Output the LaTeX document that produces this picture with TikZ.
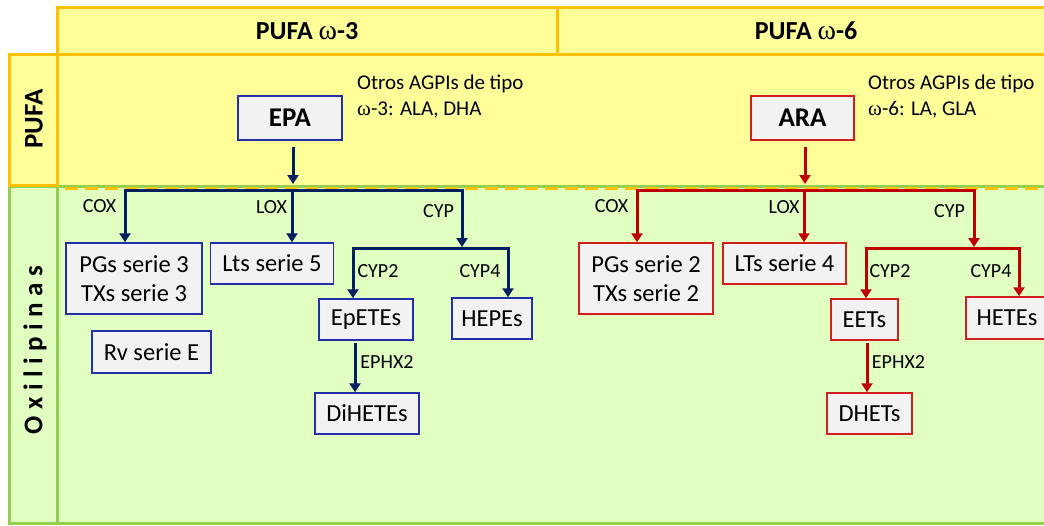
\documentclass[tikz,border=0pt]{standalone}
\usepackage{fontspec}
\setmainfont{Carlito}
\newfontfamily\omegafont{Liberation Serif}
\usetikzlibrary{arrows.meta}
\definecolor{hdryellow}{RGB}{255,255,153}
\definecolor{hdrorange}{RGB}{255,192,0}
\definecolor{lgreen}{RGB}{224,255,192}
\definecolor{dgreen}{RGB}{146,208,80}
\definecolor{boxgray}{RGB}{242,242,242}
\definecolor{bblue}{RGB}{36,48,170}
\definecolor{navyarr}{RGB}{0,32,96}
\definecolor{redarr}{RGB}{192,0,0}
\definecolor{redbox}{RGB}{210,30,30}
\begin{document}
\begin{tikzpicture}[x=1pt,y=-1pt,
  bbox/.style={draw=bblue, fill=boxgray, line width=1.5pt, inner sep=0pt, align=center, font=\fontsize{24.5}{29}\selectfont},
  rbox/.style={bbox, draw=redbox},
  topbox/.style={bbox, font=\fontsize{27}{27}\selectfont\bfseries},
  lbl/.style={font=\fontsize{20}{20}\selectfont, inner sep=0pt},
  navy/.style={draw=navyarr, line width=3pt},
  redl/.style={draw=redarr, line width=3pt},
  tip/.style={-{Triangle[width=11pt,length=9pt]}},
  hline/.style={line cap=rect},
]
\useasboundingbox (0,0) rectangle (1044,525);
\clip (0,0) rectangle (1044,525);
% regions
\fill[white] (0,0) rectangle (1044,525);
\fill[hdryellow] (57,55) rectangle (1050,186);
\draw[dgreen, fill=lgreen, line width=3pt] (57,186) rectangle (1050,523);
\draw[dgreen, fill=lgreen, line width=3pt] (9,186) rectangle (57,523);
\draw[hdrorange, fill=hdryellow, line width=3pt] (9,54) rectangle (57,185);
\draw[hdrorange, fill=hdryellow, line width=3pt] (57,7) rectangle (557,54);
\draw[hdrorange, fill=hdryellow, line width=3pt] (557,7) rectangle (1050,54);
\draw[hdrorange, line width=3pt, dash pattern=on 13pt off 7pt] (65,188) -- (1044,188);
% headers
\node[font=\fontsize{26}{26}\selectfont\bfseries] (h3) at (307,31) {PUFA {\omegafont\mdseries\fontsize{28}{28}\selectfont ω}-3};
\node[font=\fontsize{26}{26}\selectfont\bfseries] (h6) at (806,31) {PUFA {\omegafont\mdseries\fontsize{28}{28}\selectfont ω}-6};
\node[rotate=90, font=\fontsize{27}{27}\selectfont\bfseries] (lp) at (34,119) {PUFA};
\node[rotate=90, font=\fontsize{27}{27}\selectfont\bfseries\addfontfeature{LetterSpace=24}] (lo) at (35,350) {Oxilipinas};
% top level
\node[topbox, minimum width=104pt, minimum height=44pt] (epa) at (290,118) {EPA};
\node[topbox, draw=redbox, minimum width=103pt, minimum height=44pt] (ara) at (802.5,118) {ARA};
\node[anchor=north west, align=left, inner sep=0pt, font=\fontsize{21}{26}\selectfont] (o3) at (357,75) {Otros AGPIs de tipo\\{\omegafont ω}-3: ALA, DHA};
\node[anchor=north west, align=left, inner sep=0pt, font=\fontsize{21}{26}\selectfont] (o6) at (868,75) {Otros AGPIs de tipo\\{\omegafont ω}-6: LA, GLA};
% blue boxes
\node[bbox, minimum width=136pt, minimum height=71pt] (pg3) at (134,278.5) {PGs serie 3\\TXs serie 3};
\node[bbox, minimum width=123pt, minimum height=41pt] (lt5) at (272,263.5) {Lts serie 5};
\node[bbox, minimum width=119pt, minimum height=42pt] (rv) at (151.5,352) {Rv serie E};
\node[bbox, minimum width=94pt, minimum height=41pt] (ep) at (366,319.5) {EpETEs};
\node[bbox, minimum width=80pt, minimum height=41pt] (hepe) at (492,318.5) {HEPEs};
\node[bbox, minimum width=104pt, minimum height=41pt] (dih) at (367,413.5) {DiHETEs};
% red boxes
\node[rbox, minimum width=134pt, minimum height=71pt] (pg2) at (646,278.5) {PGs serie 2\\TXs serie 2};
\node[rbox, minimum width=123pt, minimum height=41pt] (lt4) at (784.5,263.5) {LTs serie 4};
\node[rbox, minimum width=67pt, minimum height=41pt] (eet) at (864.5,319.5) {EETs};
\node[rbox, minimum width=82pt, minimum height=42pt] (hete) at (1007,318) {HETEs};
\node[rbox, minimum width=85pt, minimum height=41pt] (dhet) at (869.5,413.5) {DHETs};
% blue connectors
\coordinate (ed) at (293,184);
\draw[navy, tip] ([yshift=-6pt]epa.south -| ed) -- (ed);
\coordinate (b1) at (125,190); \coordinate (b2) at (292,190); \coordinate (b3) at (462,190);
\coordinate (s1) at (353,248); \coordinate (s2) at (508,248);
\draw[navy, hline] (b1) -- (b3);
\draw[navy, tip] (b1) -- (b1 |- pg3.north);
\draw[navy, tip] (b2) -- (b2 |- lt5.north);
\draw[navy, tip, shorten >=1pt] (b3) -- (b3 |- s1);
\draw[navy, hline] (s1) -- (s2);
\draw[navy, tip] (s1) -- (s1 |- ep.north);
\draw[navy, tip] (s2) -- (s2 |- hepe.north);
\coordinate (e1) at (355,343);
\draw[navy, tip] (e1) -- (e1 |- dih.north);
% red connectors
\coordinate (rd) at (805,184);
\draw[redl, tip] ([yshift=-6pt]ara.south -| rd) -- (rd);
\coordinate (r1) at (637,190); \coordinate (r2) at (804,190); \coordinate (r3) at (974,190);
\coordinate (t1) at (866,248); \coordinate (t2) at (1019,248);
\draw[redl, hline] (r1) -- (r3);
\draw[redl, tip] (r1) -- (r1 |- pg2.north);
\draw[redl, tip] (r2) -- (r2 |- lt4.north);
\draw[redl, tip, shorten >=1pt] (r3) -- (r3 |- t1);
\draw[redl, hline] (t1) -- (t2);
\draw[redl, tip] (t1) -- (t1 |- eet.north);
\draw[redl, tip] (t2) -- (t2 |- hete.north);
\coordinate (e2) at (867,343);
\draw[redl, tip] (e2) -- (e2 |- dhet.north);
% labels
\node[lbl] (l1) at (99.5,206) {COX};
\node[lbl] (l2) at (271.5,207) {LOX};
\node[lbl] (l3) at (438.5,211) {CYP};
\node[lbl] (l4) at (378,271) {CYP2};
\node[lbl] (l5) at (480,271) {CYP4};
\node[lbl] (l6) at (387,362) {EPHX2};
\node[lbl] (m1) at (611.5,206) {COX};
\node[lbl] (m2) at (784,207) {LOX};
\node[lbl] (m3) at (949.5,211) {CYP};
\node[lbl] (m4) at (890,271) {CYP2};
\node[lbl] (m5) at (991,271) {CYP4};
\node[lbl] (m6) at (898.5,362) {EPHX2};
\end{tikzpicture}
\end{document}
